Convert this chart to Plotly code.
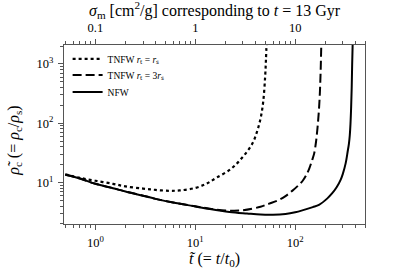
import plotly.graph_objects as go
import numpy as np

# ---- data ----
nfw_t = [0.5, 0.7, 1, 1.5, 2, 3, 4, 6, 10, 14, 22, 33, 45, 60, 80, 100, 120, 150, 173, 210, 235,
         260, 285, 300, 320, 335, 345, 352, 358, 363, 368, 372, 377]
nfw_rho = [13.5, 11.7, 9.5, 8.0, 7.05, 6.0, 5.3, 4.6, 3.95, 3.57, 3.19, 3.0, 2.88, 2.86, 2.95, 3.15,
           3.42, 3.85, 4.2, 5.4, 6.6, 8.3, 11.1, 14, 21, 33, 45, 62, 100, 180, 400, 1000, 2500]

tnfw3_t = [0.5, 0.7, 1, 1.5, 2, 3, 4, 6, 10, 14, 20, 30, 45, 55, 69, 80, 94, 108, 118, 128, 138,
           148, 155, 162, 168, 173, 177, 180, 183]
tnfw3_rho = [13.5, 11.7, 9.5, 8.0, 7.05, 6.0, 5.3, 4.6, 3.97, 3.62, 3.38, 3.4, 3.9, 4.4, 5.1, 5.9,
             7.3, 9.0, 10.5, 13, 17, 24, 31, 50, 90, 170, 350, 800, 2500]

tnfw1_t = [0.5, 0.7, 1, 1.5, 2, 3, 4, 5.5, 7, 10, 13, 16.1, 22.8, 29.7, 37.4, 42, 45.4, 47.9,
           50, 51, 51.8]
tnfw1_rho = [13.8, 12.0, 10.7, 9.5, 8.6, 7.9, 7.5, 7.25, 7.35, 8.1, 9.6, 11.9, 17, 26.7, 45.9, 77,
             129, 234, 600, 1200, 2500]

x_tickvals = [1, 10, 100]
x_ticktext = ["10<sup>0</sup>", "10<sup>1</sup>", "10<sup>2</sup>"]
y_tickvals = [10, 100, 1000]
y_ticktext = ["10<sup>1</sup>", "10<sup>2</sup>", "10<sup>3</sup>"]
top_tickvals = [0.1, 1, 10]
top_ticktext = ["0.1", "1", "10"]

x_title = "<i>t̃</i> (= <i>t</i>/<i>t</i><sub>0</sub>)"
y_title = "<i>ρ̃</i><sub>c</sub> (= <i>ρ</i><sub>c</sub>/<i>ρ</i><sub>s</sub>)"
top_title = "<i>σ</i><sub>m</sub> [cm<sup>2</sup>/g] corresponding to <i>t</i> = 13 Gyr"
names = ["TNFW <i>r</i>ₜ = <i>r</i>ₛ", "TNFW <i>r</i>ₜ = 3<i>r</i>ₛ", "NFW"]


def minors(lo, hi):
    out = []
    for e in range(-3, 5):
        for m in range(2, 10):
            v = m * 10.0 ** e
            if lo <= v <= hi:
                out.append(v)
    return out


FONT = "Liberation Serif"
AXC = "#555555"

fig = go.Figure()
fig.add_trace(go.Scatter(x=tnfw1_t, y=tnfw1_rho, mode="lines", name=names[0], legend="legend",
                         line=dict(color="black", width=2.2, dash="dot"), line_shape="spline"))
fig.add_trace(go.Scatter(x=tnfw3_t, y=tnfw3_rho, mode="lines", name=names[1], legend="legend2",
                         line=dict(color="black", width=2, dash="9px,4px"), line_shape="spline"))
fig.add_trace(go.Scatter(x=nfw_t, y=nfw_rho, mode="lines", name=names[2], legend="legend3",
                         line=dict(color="black", width=2), line_shape="spline"))
# carrier for the top axis
fig.add_trace(go.Scatter(x=[top_tickvals[0], top_tickvals[-1]], y=[10, 10], xaxis="x2", mode="lines",
                         line=dict(width=0), opacity=0, showlegend=False, hoverinfo="skip"))

xr = [np.log10(0.485), np.log10(500)]
common = dict(showgrid=False, zeroline=False, showline=True, linecolor=AXC, linewidth=1.3,
              ticks="outside", ticklen=5, tickwidth=1, tickcolor=AXC, automargin=False,
              tickfont=dict(size=12.5))


def leg(y):
    return dict(x=0.012, y=y, xanchor="left", yanchor="middle", bgcolor="rgba(0,0,0,0)",
                font=dict(size=9.5, family=FONT), itemwidth=30)


fig.update_layout(
    width=407, height=271,
    margin=dict(l=64, r=42, t=45, b=47, autoexpand=False),
    paper_bgcolor="white", plot_bgcolor="white",
    font=dict(family=FONT, size=12, color="black"),
    showlegend=True,
    legend=leg(0.922), legend2=leg(0.832), legend3=leg(0.737),
    xaxis=dict(type="log", range=xr, tickmode="array", tickvals=x_tickvals, ticktext=x_ticktext,
               minor=dict(tickmode="array", tickvals=minors(0.485, 500), ticks="outside", ticklen=3,
                          tickcolor=AXC),
               ticklabelstandoff=2, **common),
    xaxis2=dict(type="log", overlaying="x", side="top", range=[xr[0] - 1, xr[1] - 1], anchor="y",
                tickmode="array", tickvals=top_tickvals, ticktext=top_ticktext,
                minor=dict(tickmode="array", tickvals=minors(0.0485, 50), ticks="outside", ticklen=3,
                           tickcolor=AXC),
                ticklabelstandoff=2, **common),
    yaxis=dict(type="log", range=[0.30, 3.32], tickmode="array", tickvals=y_tickvals, ticktext=y_ticktext,
               minor=dict(tickmode="array", tickvals=minors(2, 2100), ticks="outside", ticklen=3,
                          tickcolor=AXC),
               mirror=True, ticklabelstandoff=2, **common),
    annotations=[
        dict(text=top_title, xref="paper", yref="paper", x=0.5, y=1.195, xanchor="center", yanchor="middle",
             showarrow=False, font=dict(size=16, family=FONT)),
        dict(text=x_title, xref="paper", yref="paper", x=0.5, y=-0.20, xanchor="center", yanchor="middle",
             showarrow=False, font=dict(size=16, family=FONT)),
        dict(text=y_title, xref="paper", yref="paper", x=-0.163, y=0.47, xanchor="center", yanchor="middle",
             textangle=-90, showarrow=False, font=dict(size=16, family=FONT)),
    ],
)
fig.write_html("out.html", config={"displayModeBar": False},
               post_script="document.body.style.margin='0';document.body.style.overflow='hidden';")
